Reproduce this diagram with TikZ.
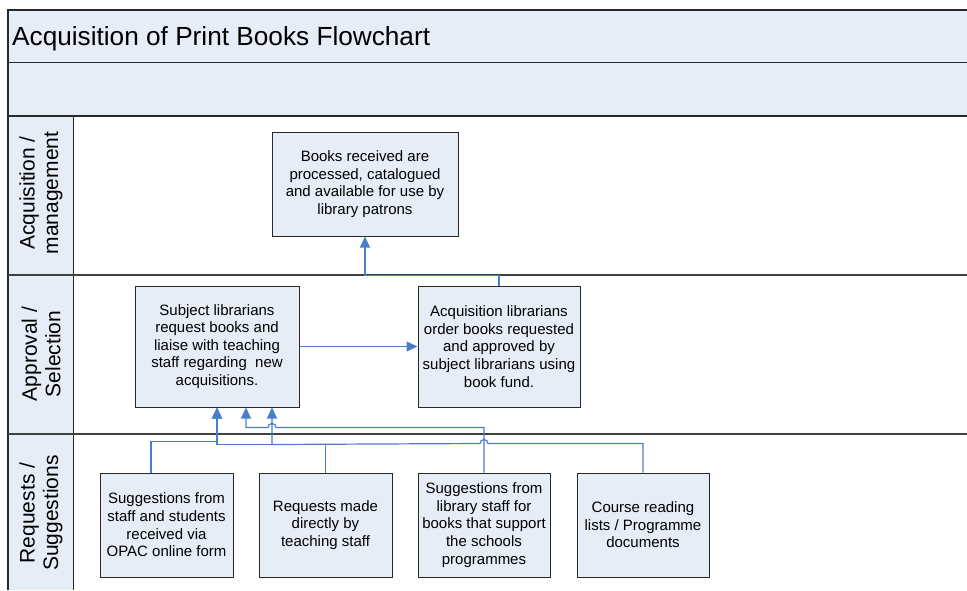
\documentclass[tikz,border=0pt]{standalone}
\usepackage{fontspec}
\setmainfont{Liberation Sans}
\usetikzlibrary{arrows.meta,calc}
\definecolor{bandfill}{RGB}{230,237,247}
\definecolor{conn}{RGB}{74,126,200}
\definecolor{edge}{RGB}{40,40,40}
\definecolor{lane}{RGB}{64,64,64}
\begin{document}
\begin{tikzpicture}[x=1pt,y=-1pt,
  procbox/.style={draw=edge,line width=1pt,fill=bandfill,align=center,inner sep=0pt,font=\fontsize{15}{17.6}\selectfont},
  link/.style={draw=conn,line width=1.2pt},
  tip/.style={-{Triangle[width=10pt,length=11pt]}},
  lanelabel/.style={rotate=90,align=center,font=\fontsize{21}{23.5}\selectfont,inner sep=0pt}]
\useasboundingbox (0,0) rectangle (967,590);
% bands and lanes
\fill[bandfill] (8,10) rectangle (967,116);
\fill[bandfill] (8,116) rectangle (73,590);
\draw[edge,line width=1.5pt] (967,10) -- (8,10) -- (8,590);
\draw[edge,line width=1pt] (8,62) -- (967,62);
\draw[edge,line width=1.5pt] (8,116) -- (967,116);
\draw[edge,line width=1pt] (73,116) -- (73,590);
\draw[lane,line width=2pt] (8,275) -- (967,275);
\draw[lane,line width=2pt] (8,434) -- (967,434);
% title
\node[anchor=base west,font=\fontsize{26.2}{30}\selectfont,inner sep=0pt] (title) at (12,45) {Acquisition of Print Books Flowchart};
% lane labels
\node[lanelabel] (l1) at (41,193) {Acquisition /\\management};
\node[lanelabel] (l2) at (41,354) {Approval /\\Selection};
\node[lanelabel] (l3) at (41,513) {Requests /\\Suggestions};
% boxes
\node[procbox,minimum width=186pt,minimum height=104pt] (boxa) at (365,184) {Books received are\\processed, catalogued\\and available for use by\\library patrons};
\node[procbox,minimum width=164pt,minimum height=121pt] (subj) at (217,346.5) {Subject librarians\\request books and\\liaise with teaching\\staff regarding\ \ new\\acquisitions.};
\node[procbox,minimum width=162pt,minimum height=121pt] (acq) at (499,346.5) {Acquisition librarians\\order books requested\\and approved by\\subject librarians using\\book fund.};
\node[procbox,minimum width=133pt,minimum height=104pt] (b1) at (166.5,525) {Suggestions from\\staff and students\\received via\\OPAC online form};
\node[procbox,minimum width=133pt,minimum height=104pt] (b2) at (325.5,525) {Requests made\\directly by\\teaching staff};
\node[procbox,minimum width=132pt,minimum height=104pt] (b3) at (484,525) {Suggestions from\\library staff for\\books that support\\the schools\\programmes};
\node[procbox,minimum width=132pt,minimum height=104pt] (b4) at (643,525) {Course reading\\lists / Programme\\documents};
% connector ends
\coordinate (s2) at ([xshift=29pt]subj.south);
\coordinate (s3) at ([xshift=55pt]subj.south);
% connectors
\draw[link,tip] (acq.north) |- ($(boxa.south)+(0,39)$) -- (boxa.south);
\draw[link,tip] (subj.east) -- (acq.west);
\draw[link,tip] ([xshift=-15.5pt]b1.north) |- ($(subj.south)+(0,34)$) -- (subj.south);
\draw[link,tip] (b2.north) |- ($(subj.south)+(0,37)$) -- (subj.south);
\draw[link,tip] (b3.north) |- ($(s3)+(4,20)$) arc[start angle=0,end angle=-180,radius=4] -- ($(s2)+(0,20)$) -- (s2);
\draw[link,tip] (b4.north) |- ($(b3.north)+(4,-29)$) arc[start angle=0,end angle=-180,radius=4] -- ($(s3)+(0,37)$) -- (s3);
\end{tikzpicture}
\end{document}
